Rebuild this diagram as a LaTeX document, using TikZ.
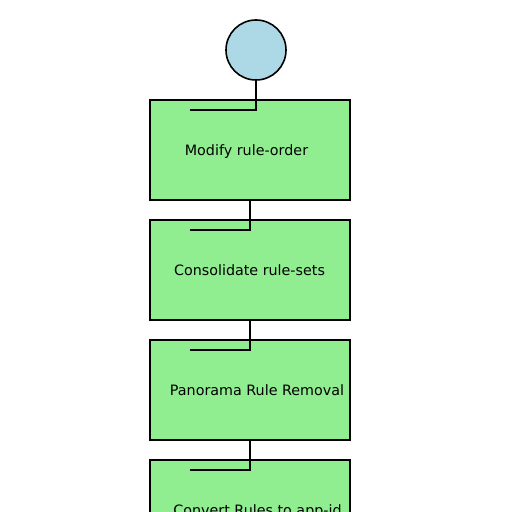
\documentclass[tikz,border=0pt]{standalone}
\usepackage{fontspec}
\setmainfont{DejaVu Sans}
\definecolor{boxgreen}{HTML}{90EE90}
\definecolor{startblue}{HTML}{ADD8E6}
\begin{document}
\begin{tikzpicture}[x=1bp,y=-1bp,
  stepbox/.style={draw=black,line width=2bp,fill=boxgreen,minimum width=200bp,minimum height=100bp,inner sep=0pt,outer sep=0pt},
  startnode/.style={circle,draw=black,line width=1.6bp,fill=startblue,minimum size=60bp,inner sep=0pt,outer sep=0pt},
  lbl/.style={font=\fontsize{14.3bp}{17bp}\selectfont,inner sep=0pt,anchor=base},
  conn/.style={draw=black,line width=2bp}]
\useasboundingbox (0,0) rectangle (512,512);
\clip (0,0) rectangle (512,512);
\node[startnode] (start) at (256,50) {};
\node[stepbox] (b1) at (250,150) {};
\node[stepbox] (b2) at (250,270) {};
\node[stepbox] (b3) at (250,390) {};
\node[stepbox] (b4) at (250,510) {};
\node[lbl] (t1) at (246.5,155.5) {Modify rule-order};
\node[lbl] (t2) at (249.5,275.5) {Consolidate rule-sets};
\node[lbl] (t3) at (257,395.5) {Panorama Rule Removal};
\node[lbl] (t4) at (257.5,515.5) {Convert Rules to app-id};
\coordinate (c1) at (190,110);
\coordinate (c2) at (190,230);
\coordinate (c3) at (190,350);
\coordinate (c4) at (190,470);
\draw[conn] (start.south) |- (c1);
\draw[conn] (b1.south) |- (c2);
\draw[conn] (b2.south) |- (c3);
\draw[conn] (b3.south) |- (c4);
\end{tikzpicture}
\end{document}
